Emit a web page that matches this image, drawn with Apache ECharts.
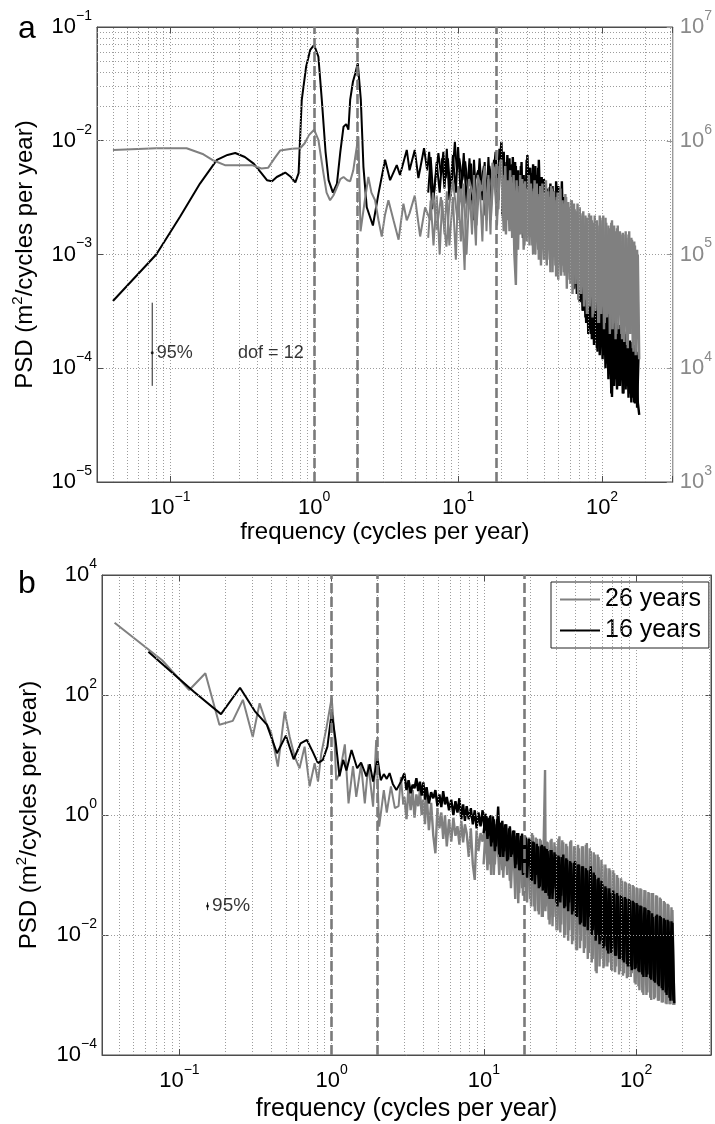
<!DOCTYPE html>
<html>
<head>
<meta charset="utf-8">
<script src="https://cdn.jsdelivr.net/npm/echarts@6.0.0/dist/echarts.min.js"></script>
<style>
html,body{margin:0;padding:0;background:#ffffff;}
#chart{width:715px;height:1124px;}
</style>
</head>
<body>
<div id="chart"></div>
<script>
// ---------------- data ----------------
const harmonicFreqs = [1, 2, 18.4];
const minorFreqTicks = [0.04,0.05,0.06,0.07,0.08,0.09, 0.2,0.3,0.4,0.5,0.6,0.7,0.8,0.9, 2,3,4,5,6,7,8,9, 20,30,40,50,60,70,80,90, 200,300];
const minorPsdTicksA = [2e-5,3e-5,4e-5,5e-5,6e-5,7e-5,8e-5,9e-5, 2e-4,3e-4,4e-4,5e-4,6e-4,7e-4,8e-4,9e-4, 2e-3,3e-3,4e-3,5e-3,6e-3,7e-3,8e-3,9e-3, 2e-2,3e-2,4e-2,5e-2,6e-2,7e-2,8e-2,9e-2];
const majorPsdTicksB = [1e-2, 1, 1e2];

// panel a, black curve (left axis), low/mid frequencies
const aBlackFreq = [0.04,0.08,0.117,0.161,0.211,0.25,0.283,0.33,0.38,0.43,0.47,0.51,0.55,0.63,0.69,0.74,0.78,0.82,0.88,0.94,1.0,1.07,1.13,1.2,1.26,1.35,1.44,1.52,1.6,1.67,1.73,1.78,1.86,1.93,2.01,2.11,2.2,2.32,2.56,2.8,3.11,3.37,3.75,3.95,4.4,4.6,5.0,5.3,5.8,6.1,6.3,6.6,6.9,7.3,7.6,7.9,8.2,8.5,8.9,9.5,9.8,10.2,10.7,11.2,11.7,12.3,12.7,13.1,13.8,14.4,15.1,15.5,16.0,16.5,17.3,18.2,19.1,19.6];
const aBlackPsd = [3.9e-4,1.0e-3,2.15e-3,4.2e-3,6.8e-3,7.5e-3,7.8e-3,7.2e-3,6.3e-3,5.2e-3,4.5e-3,4.4e-3,4.8e-3,5.25e-3,4.8e-3,4.3e-3,5.2e-3,2.28e-2,4.5e-2,6.3e-2,6.95e-2,5.5e-2,2.3e-2,8e-3,4.5e-3,3.5e-3,4.2e-3,8e-3,1.33e-2,1.4e-2,1.25e-2,2.3e-2,3.3e-2,3.9e-2,4.8e-2,2.3e-2,5.9e-3,2.6e-3,1.8e-3,3.45e-3,6.8e-3,4.5e-3,6.1e-3,5e-3,8.3e-3,5.5e-3,8.3e-3,4.7e-3,8.6e-3,5.5e-3,8e-3,2.5e-3,4.2e-3,7.8e-3,5e-3,8e-3,4.7e-3,7e-3,3.2e-3,9.8e-3,5.5e-3,7e-3,4.5e-3,6.6e-3,4e-3,6.3e-3,2e-3,4.5e-3,5.5e-3,4e-3,6e-3,2.2e-3,3.5e-3,6e-3,4e-3,8e-3,3e-3,6.5e-3];

// panel a, gray curve (right axis), low/mid frequencies
const aGrayFreq = [0.04,0.08,0.13,0.17,0.2,0.24,0.3,0.37,0.43,0.48,0.53,0.58,0.7,0.8,0.86,0.92,1.0,1.07,1.16,1.22,1.29,1.36,1.44,1.52,1.6,1.7,1.78,1.87,1.93,2.03,2.1,2.14,2.25,2.38,2.5,2.65,2.8,2.95,3.1,3.28,3.56,3.86,4.17,4.4,4.6,5.0,5.45,5.9,6.4,6.7,7.1,7.6,8.3,8.7,9.2,9.9,10.5,11.1,11.3,11.9,12.8,13.3,13.7,14.6,15.3,15.8,16.2,16.8,17.3,18.4,19.1,19.5];
const aGrayPsd = [8.3e5,8.6e5,8.6e5,7.6e5,6.7e5,6.1e5,6.1e5,6.1e5,5.7e5,5.8e5,7e5,8.2e5,8.5e5,8.6e5,9.5e5,1.12e6,1.25e6,1.02e6,5.2e5,3.5e5,3.0e5,3.3e5,3.9e5,4.6e5,4.8e5,4.5e5,4.4e5,5.5e5,7.2e5,1.09e6,1.6e5,1.64e5,3e5,4.8e5,3.5e5,3e5,2e5,1.44e5,2.2e5,3e5,2e5,1.35e5,2.8e5,2e5,2.3e5,3.3e5,1.44e5,2.6e5,2e5,3.5e5,1.64e5,3.2e5,1.17e5,2.8e5,4.5e5,2e5,3.8e5,7.3e4,2e5,4.6e5,3.2e5,1.2e5,5e5,3.6e5,6e5,2e5,4.6e5,1.5e5,6.4e5,5e5,2.5e5,6.5e5];

// panel a, interleaved mid-frequency samples (6-20 cycles per year)
const aMidFreqB = [6.2,6.45,6.75,7.1,7.45,7.75,8.05,8.35,8.7,9.2,9.65,10.0,10.45,10.95,11.45,12.0,12.5,12.9,13.45,14.1,14.75,15.3,15.75,16.25,16.9,17.75,18.65,19.35];
const aBlackMidPsdB = [3.5e-3,7.2e-3,3e-3,6.5e-3,3.5e-3,7e-3,3.8e-3,8.5e-3,3e-3,7.5e-3,3.5e-3,8.8e-3,3.2e-3,7.8e-3,2.8e-3,7e-3,3e-3,6.8e-3,2.6e-3,7e-3,3e-3,6.5e-3,2.8e-3,7.2e-3,2.5e-3,6.8e-3,2.2e-3,8.5e-3];
const aGrayMidPsdB = [1.4e5,3e5,1.2e5,3.3e5,1e5,3e5,1.5e5,3.6e5,1.2e5,3.2e5,9e4,4e5,1.3e5,4.2e5,1e5,3.8e5,1.5e5,5e5,1.8e5,4.5e5,1.3e5,5.5e5,1.6e5,5e5,2e5,5.8e5,1.8e5,6e5];

// panel a, high-frequency band (two interleaved sets of frequencies)
const aBandFreq = [20,20.5,21,21.5,22,22.5,23,23.5,24,24.6,25.2,25.8,26.4,27,27.6,28.2,28.9,29.6,30.3,31,31.7,32.4,33.2,34,34.8,35.6,36.4,37.2,38.1,39,39.9,40.8,41.8,42.8,43.8,44.8,45.8,46.9,48,49.1,50.2,51.4,52.6,53.8,55,56.3,57.6,58.9,60.3,61.7,63.1,64.6,66.1,67.6,69.2,70.8,72.4,74.1,75.8,77.6,79.4,81.2,83.1,85,87,89,91,93.1,95.3,97.5,99.8,102,104.5,107,109.5,112,114.6,117.3,120,122.8,125.7,128.6,131.6,134.7,137.8,141,144.3,147.7,151,154.5,158,161.7,165.5,169.4,173.3,177.3,181.4];
const aBlackBandPsd = [9.8e-3,3e-3,6.5e-3,2.5e-3,7.5e-3,3.5e-3,5.5e-3,2e-3,7.2e-3,3e-3,
 6e-3,1.6e-3,5e-3,2.8e-3,6.5e-3,1.4e-3,4.5e-3,2.2e-3,7.5e-3,3e-3,
 5.8e-3,2e-3,6.2e-3,2.6e-3,5e-3,1.8e-3,6.8e-3,2.5e-3,4.8e-3,1.6e-3,
 4e-3,1.4e-3,3.5e-3,1.8e-3,4.2e-3,1.5e-3,3.6e-3,1.2e-3,4.4e-3,1.6e-3,
 3.8e-3,1.1e-3,4.4e-3,1.3e-3,3e-3,9e-4,2.8e-3,8e-4,2e-3,7e-4,
 1.6e-3,6e-4,1.4e-3,4.5e-4,1.2e-3,4e-4,9e-4,3.2e-4,8e-4,2.5e-4,
 6.4e-4,2.2e-4,5.5e-4,1.8e-4,5e-4,2e-4,4.5e-4,1.4e-4,4e-4,1.6e-4,
 5e-4,1.3e-4,3.8e-4,1.1e-4,3.2e-4,9e-5,3e-4,5.6e-5,2.8e-4,8e-5,
 2.5e-4,7e-5,2.4e-4,8e-5,2.2e-4,6e-5,2e-4,7e-5,1.8e-4,6e-5,
 1.7e-4,5.5e-5,1.6e-4,4.9e-5,1.4e-4,5e-5,3.9e-5];
const aGrayBandPsd = [6.8e5,2e5,5e5,1.5e5,4.5e5,2.2e5,5.5e5,1.8e5,4e5,1e5,
 5.4e4,3.5e5,1.5e5,5e5,2e5,4.2e5,1.2e5,3.8e5,1.5e5,5e5,
 1.8e5,3.6e5,1e5,4.5e5,1.4e5,3.2e5,9e4,4e5,1.3e5,3.5e5,
 9e4,4.5e5,1.2e5,3.2e5,7e4,3.8e5,1.1e5,3e5,6.4e4,3.5e5,
 1e5,3.8e5,8e4,2.8e5,6.5e4,3.2e5,9e4,2.6e5,5.5e4,3e5,
 4.9e4,2.5e5,7e4,2.8e5,5e4,2.2e5,6e4,2.4e5,4e4,2.1e5,
 3e4,2.3e5,5e4,2e5,3e4,2.2e5,4e4,1.8e5,2.5e4,2.1e5,
 3.5e4,2.2e5,2.5e4,1.9e5,3e4,1.7e5,2.2e4,2e5,2.5e4,1.6e5,
 2e4,1.8e5,3e4,1.5e5,1.8e4,1.5e5,2.5e4,1.4e5,1.5e4,1.6e5,
 2e4,1.35e5,1.4e4,1.2e5,1.8e4,1e5,1.2e4];
const aBandFreqB = [20.25,20.75,21.25,21.75,22.25,22.75,23.25,23.75,24.3,24.9,
 25.5,26.1,26.7,27.3,27.9,28.55,29.25,29.95,30.65,31.35,
 32.05,32.8,33.6,34.4,35.2,36,36.8,37.65,38.55,39.45,
 40.35,41.3,42.3,43.3,44.3,45.3,46.35,47.45,48.55,49.65,
 50.8,52,53.2,54.4,55.65,56.95,58.25,59.6,61,62.4,
 63.85,65.35,66.85,68.4,70,71.6,73.25,74.95,76.7,78.5,
 80.3,82.15,84.05,86,88,90,92.05,94.2,96.4,98.65,
 100.9,103.25,105.75,108.25,110.75,113.3,115.95,118.65,121.4,124.25,
 127.15,130.1,133.15,136.25,139.4,142.65,146,149.35,152.75,156.25,
 159.85,163.6,167.45,171.35,175.3,179.35];
const aBlackBandPsdB = [2.2e-3,8e-3,2.8e-3,6e-3,2.2e-3,7e-3,3e-3,6.2e-3,2e-3,6.5e-3,
 2e-3,5.5e-3,1.8e-3,6e-3,2.5e-3,5e-3,1.5e-3,6.8e-3,2.2e-3,5.5e-3,
 1.6e-3,5.2e-3,2.2e-3,6e-3,1.5e-3,5.8e-3,2e-3,4.2e-3,1.3e-3,4.6e-3,
 1.2e-3,3.8e-3,1.5e-3,3.9e-3,1.2e-3,4e-3,1.4e-3,3.3e-3,1e-3,4e-3,
 1e-3,3.5e-3,1.1e-3,3.2e-3,8e-4,2.6e-3,7e-4,2.4e-3,6e-4,1.8e-3,
 5e-4,1.5e-3,4.5e-4,1.3e-3,3.8e-4,1e-3,3.2e-4,8.5e-4,2.8e-4,7e-4,
 2e-4,6e-4,2e-4,5.2e-4,1.6e-4,4.8e-4,1.5e-4,4.2e-4,1.3e-4,4.5e-4,
 1.2e-4,4e-4,1e-4,3.5e-4,8e-5,3.2e-4,6e-5,2.9e-4,7e-5,2.6e-4,
 6.5e-5,2.4e-4,7e-5,2.3e-4,6e-5,2.1e-4,6.5e-5,1.9e-4,5.5e-5,1.75e-4,
 5e-5,1.65e-4,5e-5,1.5e-4,4.5e-5,1.3e-4];
const aGrayBandPsdB = [4e5,1.6e5,6e5,2e5,3.8e5,1.6e5,4.8e5,1.4e5,5e5,1.2e5,
 4.5e5,1.1e5,4e5,1.5e5,4.6e5,1.1e5,4.4e5,1.3e5,3.6e5,1.2e5,
 4.2e5,1.2e5,3.8e5,1e5,4.2e5,1.1e5,3.4e5,8e4,4.2e5,9e4,
 3.5e5,8e4,3.6e5,9e4,4e5,7e4,3.6e5,8e4,3.2e5,6e4,
 3.5e5,6.5e4,3e5,7e4,3.4e5,5e4,2.9e5,6e4,3e5,4.5e4,
 2.8e5,5.5e4,2.4e5,4e4,2.6e5,4.5e4,2.3e5,3.5e4,2.2e5,3e4,
 2.1e5,3.5e4,2.2e5,2.8e4,1.9e5,3.2e4,2e5,2.5e4,2.2e5,3e4,
 2e5,2.2e4,2.1e5,2.8e4,1.8e5,2e4,1.9e5,2.2e4,1.8e5,1.8e4,
 1.7e5,2.2e4,1.6e5,2e4,1.55e5,1.7e4,1.6e5,1.6e4,1.5e5,2e4,
 1.4e5,1.5e4,1.3e5,1.3e4,1.1e5,1.4e4];

// panel a confidence bar and labels: [freq, low, centre, high]
const aConfBar = [0.075, 7.0e-5, 1.37e-4, 3.77e-4];
const aDofLabelPos = [0.296, 1.37e-4];

// panel b, low/mid frequencies
const bGrayFreq = [0.0375,0.077,0.116,0.148,0.183,0.224,0.261,0.303,0.336,0.372,0.401,0.443,0.491,0.53,0.571,0.615,0.664,0.716,0.773,0.813,0.855,0.923,1.0,1.04,1.07,1.13,1.22,1.29,1.38,1.45,1.56,1.65,1.74,1.87,1.96,2.05,2.2,2.3,2.45,2.6,2.75,2.85,2.95];
const bGrayPsd = [1600,380,121,230,32,37,83,20,73,34,23,6.4,53,20,9.4,6,13.8,3,7.3,3.6,10.7,28,90,23,3.8,5,15,1.56,6.5,2,7,1.56,7,1.38,17.8,0.64,2.6,1.1,3,1.3,1.4,4.3,1.5];
const bBlackFreq = [0.0625,0.125,0.1875,0.25,0.3125,0.375,0.4375,0.5,0.5625,0.625,0.6875,0.75,0.8125,0.875,0.9375,1.0,1.06,1.125,1.19,1.25,1.35,1.47,1.56,1.69,1.78,1.87,2.0,2.1,2.2,2.3,2.4,2.52,2.66,2.85];
const bBlackPsd = [527,112,48,132,54,32,10.7,21,8.5,15.6,17.8,11.4,7.3,8.3,13.8,52,17.8,4.4,8.3,5.5,12.1,6,7.5,4.4,7,3.6,8.8,3.8,4.8,4.0,5,3.3,2.6,3.6];

// panel b, high-frequency band (two interleaved sets of frequencies)
const bBandFreq = [3.0,3.1,3.2,3.3,3.4,3.5,3.6,3.7,3.8,3.9,4.0,4.1,4.2,4.35,4.5,4.65,4.8,4.95,5.1,5.25,5.4,5.55,5.7,5.9,6.1,6.3,6.5,6.7,6.9,7.1,7.3,7.5,7.7,7.95,8.2,8.45,8.7,8.95,9.2,9.5,9.8,10.1,10.4,10.7,11,11.3,11.6,12,12.4,12.8,13.2,13.6,14,14.4,14.8,15.3,15.8,16.3,16.8,17.3,17.8,18.3,18.9,19.5,20.1,20.7,21.3,21.9,22.6,23.3,24,24.7,25.2,25.5,26.2,27,27.8,28.6,29.5,30.4,31.3,32.2,33.2,34.2,35.2,36.3,37.4,38.5,39.7,40.9,42.1,43.4,44.7,46,47.4,48.8,50.3,51.8,53.4,55,56.6,58.3,60,61.8,63.7,65.6,67.6,69.6,71.7,73.8,76,78.3,80.7,83.1,85.6,88.2,90.8,93.5,96.3,99.2,102,105,108,111.5,115,118.5,122,125.5,129,133,137,141,145,149.5,154,158.5,163,168,173,178];
const bBlackBandPsd = [4.9,2.6,3.8,2.3,3.2,2.8,4.1,2.5,3.6,2.1,
 3.5,1.8,2.9,1.56,2.4,1.9,2.6,1.4,2.2,1.35,
 2.5,1.5,2.0,1.2,1.8,1.0,1.7,1.1,1.9,0.85,
 1.5,0.8,1.4,0.85,1.3,0.7,1.2,0.6,1.1,0.65,
 1.2,0.55,0.95,0.45,1.0,0.35,0.85,0.3,1.38,0.2,
 0.8,0.25,0.7,0.18,0.65,0.22,0.55,0.15,0.5,0.12,
 0.49,0.107,0.42,0.14,0.38,0.08,0.35,0.1,0.3,0.064,
 0.32,0.07,0.28,0.05,0.25,0.04,0.26,0.06,0.22,0.03,
 0.2,0.045,0.22,0.03,0.18,0.035,0.16,0.025,0.17,0.02,
 0.15,0.016,0.14,0.0138,0.12,0.02,0.14,0.012,0.1,0.01,
 0.09,0.008,0.07,0.0065,0.06,0.0049,0.05,0.006,0.048,0.0045,
 0.045,0.004,0.042,0.0035,0.04,0.003,0.038,0.0026,0.035,0.0028,
 0.032,0.0024,0.03,0.002,0.028,0.0022,0.025,0.0018,0.02,0.0016,
 0.022,0.0014,0.02,0.0012,0.018,0.001,0.017,8e-4,0.016,7.3e-4];
const bGrayBandPsd = [2.0,0.85,3.0,1.2,2.6,0.9,2.2,1.4,2.6,1.0,
 1.8,0.7,2.4,0.56,1.6,0.45,0.23,1.3,0.6,1.1,
 0.4,1.0,0.3,0.85,0.36,0.9,0.45,0.65,0.32,0.8,
 0.35,0.7,0.5,0.2,0.6,0.15,0.083,0.55,0.25,0.5,
 0.36,0.6,0.23,0.55,0.15,0.65,0.1,0.7,0.2,0.45,
 0.12,0.5,0.14,0.35,0.08,0.4,0.12,0.45,0.034,0.38,
 0.06,0.45,0.05,0.4,0.04,0.5,0.03,0.42,0.025,0.4,
 0.02,0.38,5.6,0.03,0.35,0.015,0.4,0.02,0.3,0.012,
 0.44,0.015,0.35,0.01,0.3,0.012,0.38,0.008,0.3,0.0056,
 0.28,0.008,0.3,0.006,0.34,0.005,0.25,0.004,0.22,0.0023,
 0.2,0.004,0.15,0.003,0.13,0.0035,0.12,0.0025,0.107,0.003,
 0.09,0.0025,0.08,0.0023,0.075,0.002,0.07,0.0023,0.065,0.0015,
 0.06,0.0012,0.058,0.001,0.055,0.0011,0.05,8.3e-4,0.05,9e-4,
 0.045,8e-4,0.04,7.5e-4,0.035,7e-4,0.032,7e-4,0.026,6.8e-4];
const bBandFreqB = [9.95,10.25,10.55,10.85,11.15,11.45,11.8,12.2,12.6,13,
 13.4,13.8,14.2,14.6,15.05,15.55,16.05,16.55,17.05,17.55,
 18.05,18.6,19.2,19.8,20.4,21,21.6,22.25,22.95,23.65,
 24.35,24.95,25.35,25.85,26.6,27.4,28.2,29.05,29.95,30.85,
 31.75,32.7,33.7,34.7,35.75,36.85,37.95,39.1,40.3,41.5,
 42.75,44.05,45.35,46.7,48.1,49.55,51.05,52.6,54.2,55.8,
 57.45,59.15,60.9,62.75,64.65,66.6,68.6,70.65,72.75,74.9,
 77.15,79.5,81.9,84.35,86.9,89.5,92.15,94.9,97.75,100.6,
 103.5,106.5,109.75,113.25,116.75,120.25,123.75,127.25,131,135,
 139,143,147.25,151.75,156.25,160.75,165.5,170.5,175.5];
const bBlackBandPsdB = [0.5,1.05,0.4,0.9,0.3,0.95,0.25,0.85,0.22,0.75,
 0.2,0.7,0.17,0.6,0.2,0.55,0.13,0.5,0.12,0.45,
 0.1,0.45,0.09,0.4,0.08,0.36,0.07,0.33,0.06,0.3,
 0.055,0.3,0.05,0.27,0.045,0.26,0.04,0.24,0.035,0.21,
 0.035,0.2,0.028,0.19,0.025,0.17,0.022,0.16,0.02,0.15,
 0.015,0.14,0.014,0.13,0.012,0.12,0.01,0.11,0.008,0.085,
 0.007,0.08,0.006,0.065,0.0055,0.06,0.005,0.055,0.0045,0.05,
 0.004,0.046,0.0038,0.043,0.0033,0.04,0.003,0.037,0.0027,0.034,
 0.0025,0.031,0.0022,0.029,0.002,0.026,0.0019,0.023,0.0017,0.021,
 0.0015,0.021,0.0013,0.019,0.0011,0.018,9e-4,0.017,8e-4];
const bGrayBandPsdB = [0.15,0.6,0.12,0.65,0.1,0.6,0.15,0.65,0.1,0.5,
 0.09,0.45,0.1,0.5,0.06,0.42,0.04,0.48,0.05,0.4,
 0.045,0.45,0.035,0.42,0.03,0.46,0.025,0.4,0.022,0.38,
 0.02,0.4,0.025,0.36,0.018,0.38,0.014,0.35,0.012,0.4,
 0.011,0.38,0.009,0.33,0.008,0.36,0.007,0.3,0.0056,0.32,
 0.006,0.3,0.005,0.32,0.004,0.28,0.0035,0.24,0.0025,0.22,
 0.003,0.18,0.0028,0.15,0.003,0.13,0.0026,0.12,0.0024,0.1,
 0.0022,0.088,0.0021,0.078,0.0019,0.072,0.002,0.068,0.0016,0.062,
 0.0014,0.06,0.0011,0.056,0.001,0.052,9e-4,0.05,8.5e-4,0.046,
 8e-4,0.042,7.5e-4,0.037,7.2e-4,0.033,7e-4,0.029,6.8e-4];

const bConfBar = [0.153, 0.026, 0.0304, 0.035];
const legendNames = ['26 years', '16 years'];

// ---------------- chart ----------------
const FONT = '"Liberation Sans", Arial, Helvetica, sans-serif';
const AXIS_COLOR = '#4d4d4d';
const GRAY = '#808080';
const GRID_LINE = {color: '#9c9c9c', width: 1, type: [1, 2]};
const FMIN = 0.031, FMAX = 310;
const BAND_W = 2.4;

function zip(f, v) { return f.map(function (x, i) { return [x, v[i]]; }); }
function bandData(f, v, bf, bv) {
  return zip([f[f.length - 1]].concat(bf), [v[v.length - 1]].concat(bv));
}
function richFor(color) {
  return {
    b: {fontSize: 22, lineHeight: 29, verticalAlign: 'bottom', color: color, fontFamily: FONT},
    s: {fontSize: 14, lineHeight: 14, verticalAlign: 'top', color: color, fontFamily: FONT}
  };
}
function decadeLabel(step) {
  return function (v) {
    const lg = Math.log10(v);
    const e = Math.round(lg);
    if (Math.abs(lg - e) > 1e-6 || e % step !== 0) return '';
    return '{b|10}{s|' + (e < 0 ? '\u2212' + (-e) : String(e)) + '}';
  };
}
function freqAxis(gi, nameGap, nameSize) {
  return {
    type: 'log', logBase: 10, gridIndex: gi, min: FMIN, max: FMAX,
    axisLine: {show: true, lineStyle: {color: AXIS_COLOR, width: 1}},
    axisTick: {show: true, inside: true, length: 6, lineStyle: {color: AXIS_COLOR}},
    axisLabel: {formatter: decadeLabel(1), margin: 8, rich: richFor('#000')},
    splitLine: {show: true, lineStyle: GRID_LINE},
    name: 'frequency (cycles per year)', nameLocation: 'middle', nameGap: nameGap,
    nameTextStyle: {fontSize: nameSize, color: '#000', fontFamily: FONT}
  };
}
function topAxis(gi) {
  return {
    type: 'log', logBase: 10, gridIndex: gi, min: FMIN, max: FMAX, position: 'top',
    axisLine: {show: true, lineStyle: {color: AXIS_COLOR, width: 1}},
    axisTick: {show: true, inside: true, length: 6, lineStyle: {color: AXIS_COLOR}},
    axisLabel: {show: false}, splitLine: {show: false}
  };
}
function psdName(gap) {
  return {
    name: 'PSD (m{s|2}/cycles per year)', nameLocation: 'middle', nameRotate: 90, nameGap: gap,
    nameTextStyle: {fontSize: 24, lineHeight: 30, color: '#000', fontFamily: FONT,
      rich: {s: {fontSize: 15, lineHeight: 15, verticalAlign: 'top', color: '#000', fontFamily: FONT}}}
  };
}
function gridLines(xi, yi, xs, ys) {
  return {
    type: 'line', xAxisIndex: xi, yAxisIndex: yi, data: [], z: 1, silent: true,
    markLine: {silent: true, animation: false, symbol: ['none', 'none'], label: {show: false},
      emphasis: {disabled: true}, lineStyle: GRID_LINE,
      data: xs.map(function (f) { return {xAxis: f}; }).concat(ys.map(function (p) { return {yAxis: p}; }))}
  };
}
function harmonicLines(xi, yi) {
  return {
    type: 'line', xAxisIndex: xi, yAxisIndex: yi, data: [], z: 2, silent: true,
    markLine: {silent: true, animation: false, symbol: ['none', 'none'], label: {show: false},
      emphasis: {disabled: true}, lineStyle: {color: '#7a7a7a', width: 2.6, type: [10, 4]},
      data: harmonicFreqs.map(function (f) { return {xAxis: f}; })}
  };
}
function curve(name, xi, yi, color, width, z, data) {
  const s = {type: 'line', xAxisIndex: xi, yAxisIndex: yi, symbol: 'none', z: z, silent: true,
    lineStyle: {color: color, width: width, join: 'bevel'}, itemStyle: {color: color}, data: data};
  if (name) s.name = name;
  return s;
}
function confSeries(xi, yi, bar, fontSize) {
  return [
    {type: 'line', xAxisIndex: xi, yAxisIndex: yi, symbol: 'none', silent: true, z: 6,
     lineStyle: {color: '#222', width: 1}, data: [[bar[0], bar[1]], [bar[0], bar[3]]]},
    {type: 'scatter', xAxisIndex: xi, yAxisIndex: yi, symbolSize: 3, silent: true, z: 6,
     itemStyle: {color: '#000'}, data: [[bar[0], bar[2]]],
     label: {show: true, position: 'right', distance: 3, formatter: '95%', fontSize: fontSize, color: '#000', fontFamily: FONT}}
  ];
}

const option = {
  animation: false,
  backgroundColor: '#ffffff',
  textStyle: {fontFamily: FONT},
  title: [
    {text: 'a', left: 18, top: 13, padding: 0, textStyle: {fontSize: 32, fontWeight: 'normal', color: '#000', fontFamily: FONT}},
    {text: 'b', left: 18, top: 568, padding: 0, textStyle: {fontSize: 32, fontWeight: 'normal', color: '#000', fontFamily: FONT}}
  ],
  grid: [
    {left: 97, top: 27, width: 576, height: 455, show: true, borderColor: AXIS_COLOR, borderWidth: 1, backgroundColor: 'transparent'},
    {left: 102, top: 575, width: 609, height: 480, show: true, borderColor: AXIS_COLOR, borderWidth: 1, backgroundColor: 'transparent'}
  ],
  legend: {
    data: legendNames, orient: 'vertical', left: 551, top: 582,
    padding: [5, 8, 5, 9], itemGap: 6, itemWidth: 40, itemHeight: 2, icon: 'rect',
    backgroundColor: '#fff', borderColor: '#222', borderWidth: 1, selectedMode: false,
    textStyle: {fontSize: 25, color: '#000', fontFamily: FONT}
  },
  xAxis: [freqAxis(0, 37, 24), topAxis(0), freqAxis(1, 42, 25), topAxis(1)],
  yAxis: [
    Object.assign({
      type: 'log', logBase: 10, gridIndex: 0, min: 1e-5, max: 1e-1, position: 'left',
      axisLine: {show: true, lineStyle: {color: AXIS_COLOR}},
      axisTick: {show: true, inside: true, length: 6, lineStyle: {color: AXIS_COLOR}},
      axisLabel: {formatter: decadeLabel(1), margin: 5, padding: [0, 0, 7, 0], rich: richFor('#000')},
      splitLine: {show: true, lineStyle: GRID_LINE}
    }, psdName(54)),
    {
      type: 'log', logBase: 10, gridIndex: 0, min: 1e3, max: 1e7, position: 'right',
      axisLine: {show: true, lineStyle: {color: '#9a9a9a'}},
      axisTick: {show: true, inside: true, length: 6, lineStyle: {color: '#9a9a9a'}},
      axisLabel: {formatter: decadeLabel(1), margin: 7, padding: [0, 0, 7, 0], rich: richFor('#8a8a8a')},
      splitLine: {show: false}
    },
    Object.assign({
      type: 'log', logBase: 10, gridIndex: 1, min: 1e-4, max: 1e4, interval: 2, position: 'left',
      axisLine: {show: true, lineStyle: {color: AXIS_COLOR}},
      axisTick: {show: true, inside: true, length: 6, lineStyle: {color: AXIS_COLOR}},
      axisLabel: {formatter: decadeLabel(2), margin: 5, padding: [0, 0, 7, 0], rich: richFor('#000')},
      splitLine: {show: false}
    }, psdName(58)),
    {
      type: 'log', logBase: 10, gridIndex: 1, min: 1e-4, max: 1e4, interval: 2, position: 'right',
      axisLine: {show: true, lineStyle: {color: AXIS_COLOR}},
      axisTick: {show: true, inside: true, length: 6, lineStyle: {color: AXIS_COLOR}},
      axisLabel: {show: false}, splitLine: {show: false}
    }
  ],
  series: [].concat(
    [
      gridLines(0, 0, minorFreqTicks, minorPsdTicksA),
      harmonicLines(0, 0),
      curve(null, 0, 0, '#000', 2, 3, zip(aBlackFreq, aBlackPsd)),
      curve(null, 0, 0, '#000', 2, 3, zip(aMidFreqB, aBlackMidPsdB)),
      curve(null, 0, 0, '#000', BAND_W, 3, bandData(aBlackFreq, aBlackPsd, aBandFreq, aBlackBandPsd)),
      curve(null, 0, 0, '#000', BAND_W, 3, zip(aBandFreqB, aBlackBandPsdB)),
      curve(null, 0, 1, GRAY, 2, 4, zip(aGrayFreq, aGrayPsd)),
      curve(null, 0, 1, GRAY, 2, 4, zip(aMidFreqB, aGrayMidPsdB)),
      curve(null, 0, 1, GRAY, BAND_W, 4, bandData(aGrayFreq, aGrayPsd, aBandFreq, aGrayBandPsd)),
      curve(null, 0, 1, GRAY, BAND_W, 4, zip(aBandFreqB, aGrayBandPsdB))
    ],
    confSeries(0, 0, aConfBar, 18),
    [
      {type: 'scatter', xAxisIndex: 0, yAxisIndex: 0, symbolSize: 0.1, silent: true, z: 6,
       itemStyle: {color: 'rgba(0,0,0,0)'}, data: [aDofLabelPos],
       label: {show: true, position: 'right', distance: 0, formatter: 'dof = 12', fontSize: 18, color: '#000', fontFamily: FONT}},
      gridLines(2, 2, minorFreqTicks, majorPsdTicksB),
      harmonicLines(2, 2),
      curve(legendNames[0], 2, 2, GRAY, 2, 3, zip(bGrayFreq, bGrayPsd)),
      curve(null, 2, 2, GRAY, BAND_W, 3, bandData(bGrayFreq, bGrayPsd, bBandFreq, bGrayBandPsd)),
      curve(null, 2, 2, GRAY, BAND_W, 3, zip(bBandFreqB, bGrayBandPsdB)),
      curve(legendNames[1], 2, 2, '#000', 2, 4, zip(bBlackFreq, bBlackPsd)),
      curve(null, 2, 2, '#000', BAND_W, 4, bandData(bBlackFreq, bBlackPsd, bBandFreq, bBlackBandPsd)),
      curve(null, 2, 2, '#000', BAND_W, 4, zip(bBandFreqB, bBlackBandPsdB))
    ],
    confSeries(2, 2, bConfBar, 19)
  )
};

const chart = echarts.init(document.getElementById('chart'), null, {renderer: 'canvas', width: 715, height: 1124});
chart.setOption(option);
</script>
</body>
</html>
